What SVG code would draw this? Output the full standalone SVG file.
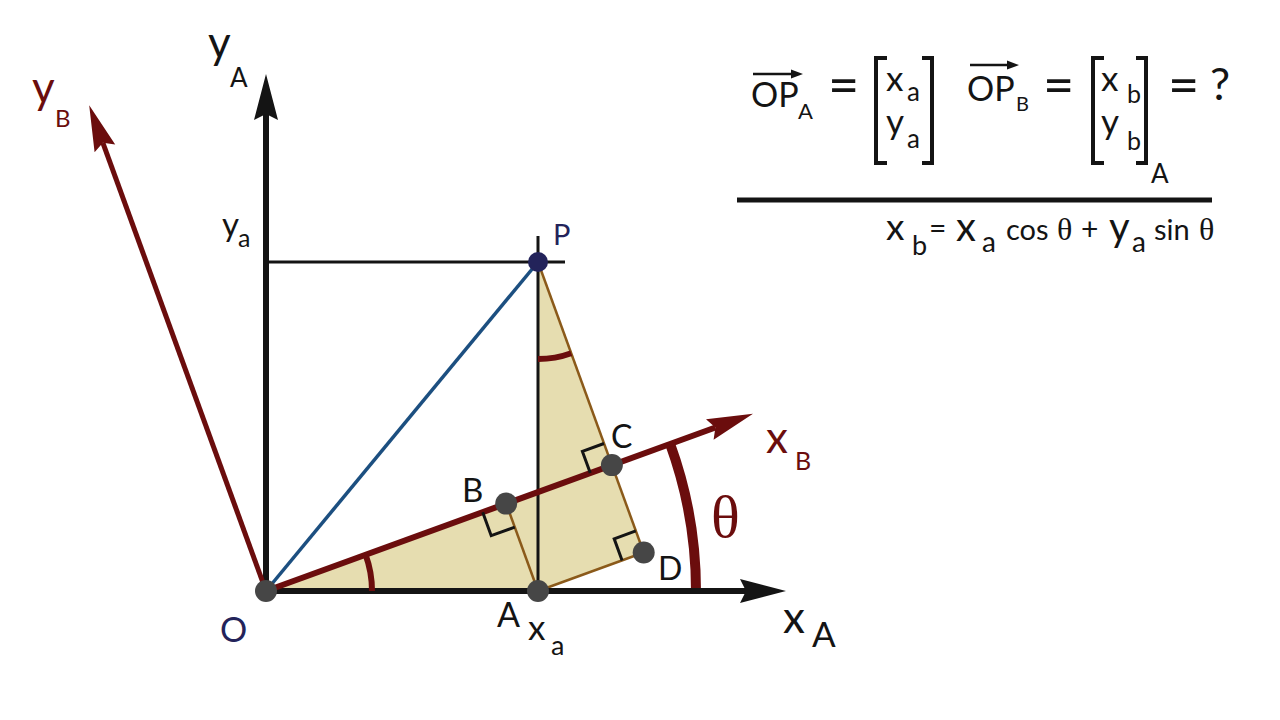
<svg xmlns="http://www.w3.org/2000/svg" width="1280" height="720" viewBox="0 0 1280 720">
<style>
text{font-family:Lato,"Open Sans","Liberation Sans",sans-serif;fill:#141414}
.red{fill:#6b0d0d}
.navy{fill:#23235a}
.ser{font-family:"Liberation Serif","DejaVu Serif",serif}
.brown{stroke:#8b5a1a;stroke-width:2.5;fill:none}
.ra{stroke:#141414;stroke-width:3;fill:none}
.arc{stroke:#6b0d0d;fill:none}
.dot{fill:#464646}
.blk{stroke:#141414;fill:none}
.br{stroke:#141414;stroke-width:4;fill:none}
</style>
<rect width="1280" height="720" fill="#ffffff"/>
<g id="shading">
<polygon points="266,591 538,591 643.7,552.5 538,262 538,492" fill="#e6ddb0"/>
</g>
<g id="connectors">
<line class="blk" x1="266" y1="262" x2="565" y2="262" stroke-width="3"/>
<line class="blk" x1="538" y1="236" x2="538" y2="591" stroke-width="3"/>
<line x1="266" y1="591" x2="538" y2="262" stroke="#1c4f80" stroke-width="3.5"/>
<line class="brown" x1="506.2" y1="503.6" x2="538" y2="591"/>
<line class="brown" x1="538" y1="262" x2="643.7" y2="552.5"/>
<line class="brown" x1="538" y1="591" x2="643.7" y2="552.5"/>
<path class="arc" d="M696,591 A430,430 0 0 0 670.1,443.9" stroke-width="10"/>
<line class="blk" x1="266" y1="591" x2="748" y2="591" stroke-width="6"/>
<polygon points="786,591 740,579 746,591 740,603" fill="#141414"/>
<line class="blk" x1="266" y1="591" x2="266" y2="114" stroke-width="6"/>
<polygon points="266,74 254,120 266,114 278,120" fill="#141414"/>
<line x1="266" y1="591" x2="715.4" y2="427.5" stroke="#6b0d0d" stroke-width="6"/>
<polygon points="753,413.8 706,419.2 715.4,427.5 713.6,439.8" fill="#6b0d0d"/>
<line x1="266" y1="591" x2="102.9" y2="142.8" stroke="#6b0d0d" stroke-width="5"/>
<polygon points="89.2,105.2 115.2,144.6 102.9,142.8 94.6,152.2" fill="#6b0d0d"/>
<path class="arc" d="M372,591 A106,106 0 0 0 365.6,554.7" stroke-width="6"/>
<path class="arc" d="M538,359 A97,97 0 0 0 571.2,353.2" stroke-width="6"/>
<polyline class="ra" points="482.7,512.2 491.2,535.7 514.8,527.1"/>
<polyline class="ra" points="590.3,473 582.4,451.4 604,443.5"/>
<polyline class="ra" points="622.1,560.4 614.2,538.8 635.8,530.9"/>
</g>
<g id="node-O"><circle class="dot" cx="266" cy="591" r="11"/><text class="navy" x="220" y="642" font-size="34">O</text></g>
<g id="node-A"><circle class="dot" cx="538" cy="591" r="11"/><text x="497" y="627" font-size="34">A</text></g>
<g id="node-B"><circle class="dot" cx="506.2" cy="503.6" r="11"/><text x="462" y="502" font-size="33">B</text></g>
<g id="node-C"><circle class="dot" cx="611.9" cy="465.1" r="11"/><text x="611" y="448" font-size="32">C</text></g>
<g id="node-D"><circle class="dot" cx="643.7" cy="552.5" r="11"/><text x="658" y="580" font-size="32">D</text></g>
<g id="node-P"><circle cx="538" cy="262" r="10" fill="#23235a"/><text class="navy" x="553" y="245" font-size="29">P</text></g>
<g id="labels">
<text x="208" y="58" font-size="44">y</text><text x="230" y="87" font-size="26">A</text>
<text class="red" x="32" y="103" font-size="44">y</text><text class="red" x="55" y="127" font-size="24">B</text>
<text x="222" y="236" font-size="33">y</text><text x="238" y="247" font-size="25">a</text>
<text x="528" y="640" font-size="35">x</text><text x="551" y="655" font-size="27">a</text>
<text x="783" y="633" font-size="44">x</text><text x="812" y="647" font-size="35">A</text>
<text class="red" x="766" y="453" font-size="44">x</text><text class="red" x="795" y="470" font-size="25">B</text>
<text class="red ser" x="711" y="537" font-size="60">θ</text>
</g>
<g id="formula">
<text x="751" y="107" font-size="34">OP</text>
<line x1="753" y1="74" x2="795" y2="74" stroke="#141414" stroke-width="2.5"/>
<polygon points="803,74 791,69.5 791,78.5" fill="#141414"/>
<text x="798" y="119" font-size="22">A</text>
<text x="828" y="104" font-size="54">=</text>
<path class="br" d="M887,58 H876 V163 H887"/>
<path class="br" d="M922,58 H932 V163 H922"/>
<text x="886" y="91" font-size="35">x</text><text x="907" y="101" font-size="26">a</text>
<text x="886" y="134" font-size="35">y</text><text x="907" y="148" font-size="26">a</text>
<text x="967" y="101" font-size="34">OP</text>
<line x1="970" y1="65" x2="1011" y2="65" stroke="#141414" stroke-width="2.5"/>
<polygon points="1019,65 1007,60.5 1007,69.5" fill="#141414"/>
<text x="1016" y="111" font-size="20">B</text>
<text x="1043" y="104" font-size="54">=</text>
<path class="br" d="M1104,58 H1093 V163 H1104"/>
<path class="br" d="M1136,58 H1146 V163 H1136"/>
<text x="1101" y="91" font-size="35">x</text><text x="1127" y="103" font-size="25">b</text>
<text x="1101" y="134" font-size="35">y</text><text x="1127" y="150" font-size="25">b</text>
<text x="1151" y="183" font-size="26">A</text>
<text x="1168" y="104" font-size="54">=</text>
<text x="1210" y="100" font-size="45">?</text>
<line x1="737" y1="200" x2="1212" y2="200" stroke="#141414" stroke-width="5"/>
<text x="886" y="240" font-size="37">x</text><text x="912" y="255" font-size="27">b</text>
<text x="929" y="239" font-size="30">=</text>
<text x="956" y="241" font-size="40">x</text><text x="982" y="252" font-size="28">a</text>
<text x="1006" y="240" font-size="29">cos</text>
<text class="ser" x="1057" y="240" font-size="32">θ</text>
<text x="1081" y="240" font-size="30">+</text>
<text x="1109" y="241" font-size="40">y</text><text x="1132" y="252" font-size="28">a</text>
<text x="1154" y="240" font-size="29">sin</text>
<text class="ser" x="1199" y="240" font-size="32">θ</text>
</g>
</svg>
